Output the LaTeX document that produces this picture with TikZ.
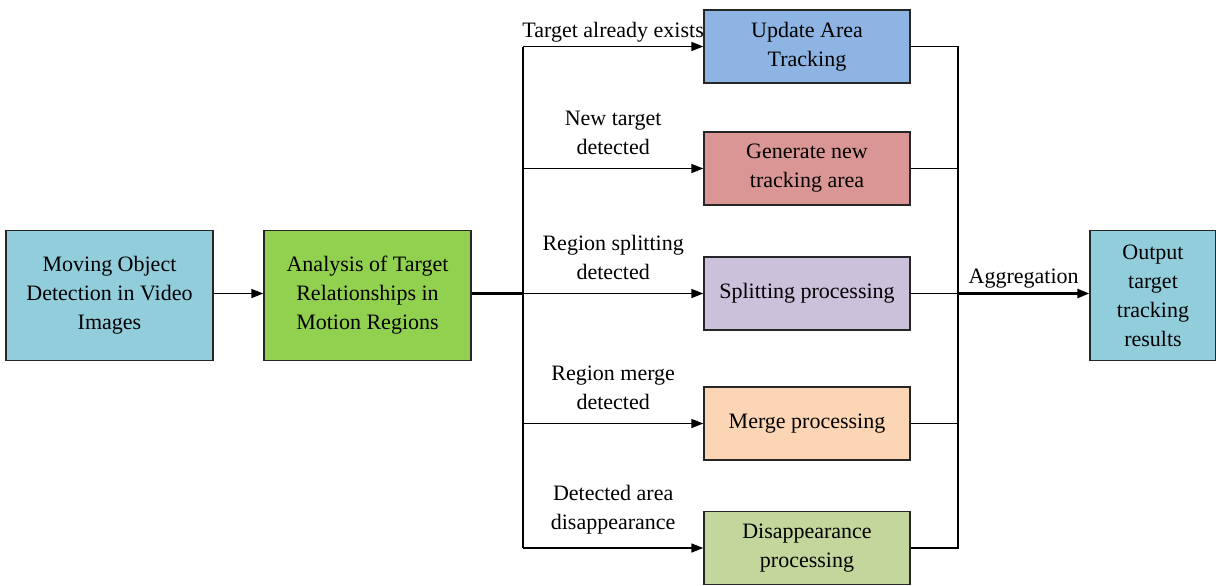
\documentclass[tikz,border=0pt]{standalone}
\usepackage{fontspec}
\setmainfont{Liberation Serif}
\usetikzlibrary{arrows.meta}
\definecolor{vidblue}{HTML}{92CDDC}
\definecolor{anagreen}{HTML}{92D050}
\definecolor{updblue}{HTML}{8EB4E3}
\definecolor{genred}{HTML}{D99694}
\definecolor{spllilac}{HTML}{CCC1DA}
\definecolor{mrgpeach}{HTML}{FCD5B5}
\definecolor{disgreen}{HTML}{C3D69B}
\begin{document}
\begin{tikzpicture}[x=0.5pt,y=-0.5pt,
    font=\fontsize{11}{14.5}\selectfont,
    bigbox/.style={draw=black!85,line width=0.7pt,align=center,minimum width=103.5pt,minimum height=65pt,inner sep=2pt},
    procbox/.style={draw=black!85,line width=0.7pt,align=center,minimum width=103pt,minimum height=36.5pt,inner sep=2pt},
    arr/.style={-{Triangle[length=6pt,width=4.5pt]}},
    lbl/.style={above,align=center,inner sep=2pt,yshift=4.5pt}]
  \useasboundingbox (0,0) rectangle (1216,585);
  % main chain
  \node[bigbox,fill=vidblue] (vid) at (109.5,295.5) {Moving Object\\Detection in Video\\Images};
  \node[bigbox,fill=anagreen] (ana) at (367.5,295.5) {Analysis of Target\\Relationships in\\Motion Regions};
  \node[bigbox,fill=vidblue,minimum width=63pt] (out) at (1153,295.5) {Output\\target\\tracking\\results};
  % processing column
  \node[procbox,fill=updblue] (upd) at (807,46.5) {Update Area\\Tracking};
  \node[procbox,fill=genred] (gen) at (807,168.5) {Generate new\\tracking area};
  \node[procbox,fill=spllilac] (spl) at (807,293.5) {Splitting processing};
  \node[procbox,fill=mrgpeach] (mrg) at (807,423.5) {Merge processing};
  \node[procbox,fill=disgreen] (dis) at (807,548) {Disappearance\\processing};
  \coordinate (jl) at (523,293.5);
  \coordinate (jr) at (958,293.5);
  \draw[arr,line width=0.8pt] (vid.east |- jl) -- (ana.west |- jl);
  \draw[line width=1.3pt] (ana.east |- jl) -- (jl);
  \draw[line width=0.8pt] (jl |- upd) -- (jl |- dis);
  \draw[arr,line width=0.8pt] (jl |- upd) -- node[lbl,yshift=-5pt]{Target already exists} (upd);
  \draw[arr,line width=0.8pt] (jl |- gen) -- node[lbl]{New target\\detected} (gen);
  \draw[arr,line width=0.8pt] (jl |- spl) -- node[lbl]{Region splitting\\detected} (spl);
  \draw[arr,line width=0.8pt] (jl |- mrg) -- node[lbl]{Region merge\\detected} (mrg);
  \draw[arr,line width=0.8pt] (jl |- dis) -- node[lbl]{Detected area\\disappearance} (dis);
  % collect results
  \draw[line width=0.8pt] (upd.east) -- (upd.east -| jr) -- (dis.east -| jr) -- (dis.east);
  \foreach \n in {gen,spl,mrg}{
    \draw[line width=0.8pt] (\n.east) -- (\n.east -| jr);
  }
  \draw[arr,line width=1.3pt] (jr) -- node[lbl,yshift=-4.5pt]{Aggregation} (out.west |- jr);
\end{tikzpicture}
\end{document}
